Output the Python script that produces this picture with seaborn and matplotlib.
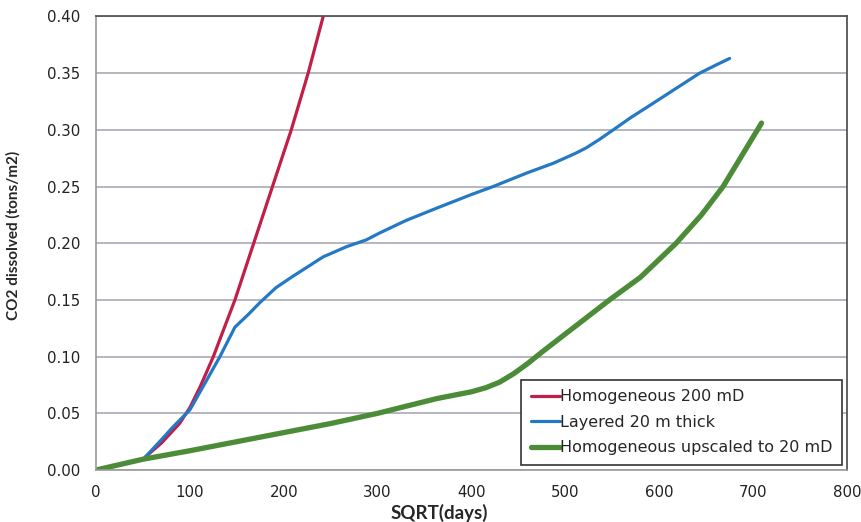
import numpy as np
import pandas as pd
import matplotlib
matplotlib.use("Agg")
import matplotlib.pyplot as plt
import seaborn as sns

# ---- data ----
red_x = [52, 70, 89, 100, 111, 125, 136, 148, 158, 168, 178, 188, 198, 208, 217, 226, 234, 242]
red_y = [0.011, 0.024, 0.041, 0.055, 0.0735, 0.100, 0.124, 0.150, 0.175, 0.200, 0.225, 0.250,
         0.275, 0.300, 0.325, 0.350, 0.375, 0.400]

blue_x = [52, 70, 82, 100, 114, 132, 148, 162, 175, 192, 210, 242, 267, 288, 302, 330, 363, 400,
          423, 459, 487, 510, 522, 537, 551, 570, 587, 615, 643, 660, 675]
blue_y = [0.011, 0.027, 0.038, 0.053, 0.0735, 0.100, 0.126, 0.137, 0.148, 0.161, 0.171, 0.188,
          0.197, 0.203, 0.209, 0.220, 0.231, 0.243, 0.250, 0.262, 0.2705, 0.279, 0.284, 0.292,
          0.300, 0.311, 0.320, 0.335, 0.350, 0.357, 0.363]

green_x = [0, 50, 100, 150, 200, 250, 300, 363, 400, 415, 430, 445, 460, 475, 500, 547, 580,
           618, 645, 668, 690, 709]
green_y = [0.0, 0.0095, 0.017, 0.025, 0.033, 0.041, 0.050, 0.063, 0.069, 0.0725, 0.0775,
           0.085, 0.094, 0.104, 0.120, 0.150, 0.170, 0.200, 0.225, 0.250, 0.280, 0.306]

series_names = ["Homogeneous 200 mD", "Layered 20 m thick", "Homogeneous upscaled to 20 mD"]
x_ticks = [0, 100, 200, 300, 400, 500, 600, 700, 800]
y_ticks = [0.00, 0.05, 0.10, 0.15, 0.20, 0.25, 0.30, 0.35, 0.40]

df = pd.concat([
    pd.DataFrame({"x": red_x, "y": red_y, "series": series_names[0]}),
    pd.DataFrame({"x": blue_x, "y": blue_y, "series": series_names[1]}),
    pd.DataFrame({"x": green_x, "y": green_y, "series": series_names[2]}),
], ignore_index=True)

sns.set_style("white")
plt.rcParams["font.family"] = ["DejaVu Sans"]

fig = plt.figure(figsize=(8.61, 5.22), dpi=100)
ax = fig.add_axes([0.1115, 0.0996, 0.8722, 0.8688])

palette = {series_names[0]: "#C21F48", series_names[1]: "#2479C4", series_names[2]: "#4C8C38"}
sizes = {series_names[0]: 2.3, series_names[1]: 2.3, series_names[2]: 3.8}
sns.lineplot(data=df, x="x", y="y", hue="series", size="series", sizes=sizes,
             palette=palette, sort=False, estimator=None, ax=ax, legend=True,
             solid_capstyle="round", solid_joinstyle="round")

ax.set_xlim(0, 800)
ax.set_ylim(0, 0.40)
ax.set_xticks(x_ticks)
ax.set_yticks(y_ticks)
ax.set_yticklabels([f"{v:.2f}" for v in y_ticks])
ax.set_xticklabels([str(v) for v in x_ticks])
ax.yaxis.grid(True, color="#A2A2AE", linewidth=1.1)
ax.xaxis.grid(False)
ax.set_axisbelow(True)

for side in ["left", "bottom"]:
    ax.spines[side].set_color("#9A9A9A")
    ax.spines[side].set_linewidth(1.2)
for side in ["top", "right"]:
    ax.spines[side].set_color("#555555")
    ax.spines[side].set_linewidth(1.3)

ax.tick_params(axis="both", which="major", direction="out", length=5, width=1,
               color="#9A9A9A", labelsize=10.8, labelcolor="#222222")
ax.tick_params(axis="y", pad=6)
ax.tick_params(axis="x", pad=6)

ax.set_xlabel("SQRT(days)", fontsize=13.5, fontweight="bold", family=["Lato", "DejaVu Sans"])
ax.set_ylabel("CO2 dissolved (tons/m2)", fontsize=11, fontweight="bold", family=["Lato", "DejaVu Sans"])
ax.xaxis.set_label_coords(0.457, -0.075)
ax.yaxis.set_label_coords(-0.1, 0.518)

handles, labels = ax.get_legend_handles_labels()
leg = ax.legend(handles=handles, labels=labels, loc="lower right",
                bbox_to_anchor=(0.993, 0.011), borderaxespad=0, frameon=True,
                fancybox=False, edgecolor="#333333", fontsize=11.5,
                handlelength=1.8, handletextpad=0.0, labelspacing=0.66,
                borderpad=0.6, framealpha=1)
leg.get_frame().set_linewidth(1.2)
for line, name in zip(leg.get_lines(), series_names):
    line.set_linewidth(sizes[name])

fig.savefig("out.png", dpi=100, facecolor="white")
